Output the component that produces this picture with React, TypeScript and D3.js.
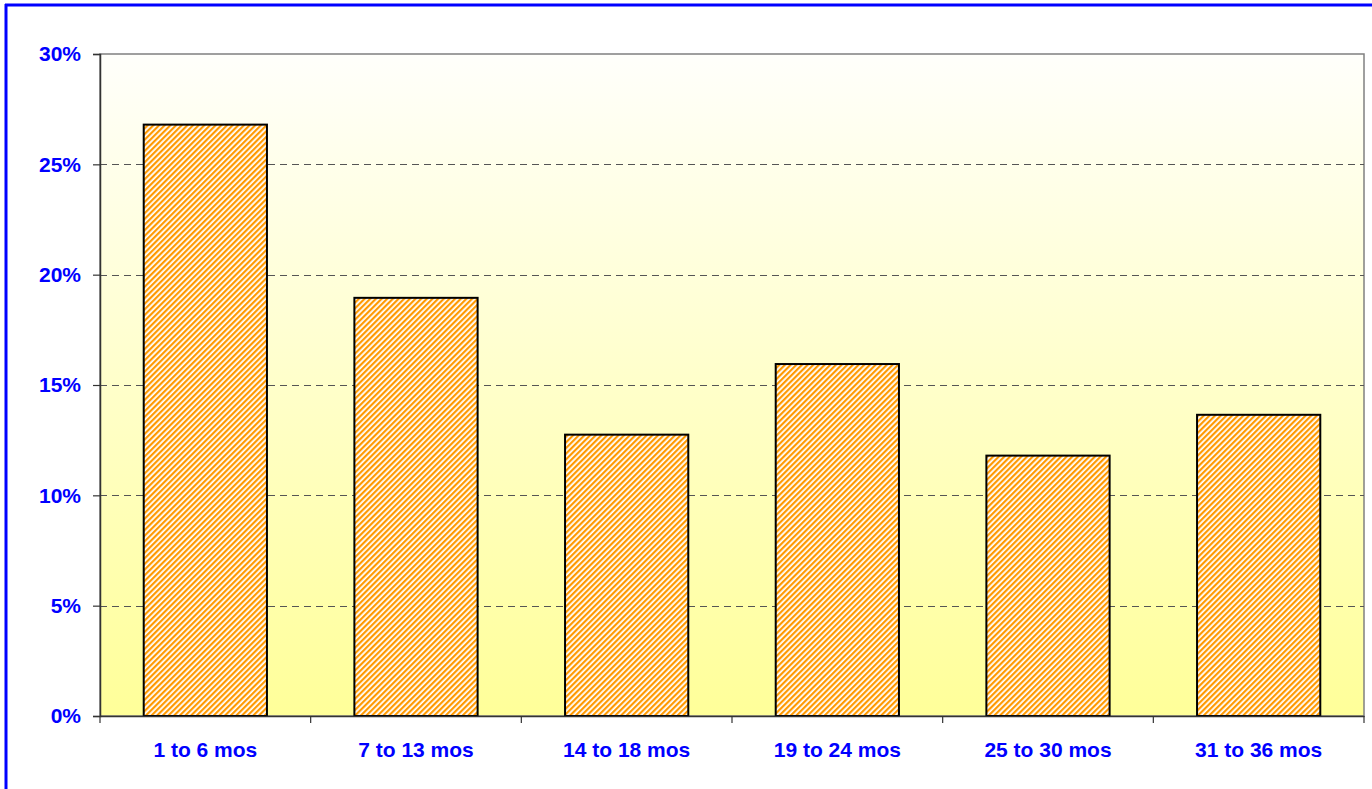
import React, { useEffect, useRef } from 'react';
import * as d3 from 'd3';

const categories = ['1 to 6 mos', '7 to 13 mos', '14 to 18 mos', '19 to 24 mos', '25 to 30 mos', '31 to 36 mos'];
const shares = [26.8, 18.95, 12.75, 15.95, 11.8, 13.65];
const yTicks = [0, 5, 10, 15, 20, 25, 30];

const W = 1372;
const H = 789;

const App = () => {
  const svgRef = useRef<SVGSVGElement>(null);

  useEffect(() => {
    document.body.style.margin = '0';
    const svg = d3.select(svgRef.current);
    svg.selectAll('*').remove();

    const plot = { left: 100, top: 54, right: 1364, bottom: 716 };
    const font = '"Liberation Sans", Arial, sans-serif';

    const x = d3.scaleBand<string>()
      .domain(categories)
      .range([plot.left, plot.right])
      .paddingInner(0.415)
      .paddingOuter(0.2075);

    const y = d3.scaleLinear().domain([0, 30]).range([plot.bottom, plot.top]);

    const defs = svg.append('defs');
    const grad = defs.append('linearGradient')
      .attr('id', 'bg')
      .attr('x1', 0).attr('y1', 0).attr('x2', 0).attr('y2', 1);
    grad.append('stop').attr('offset', '0%').attr('stop-color', '#fffffb');
    grad.append('stop').attr('offset', '100%').attr('stop-color', '#ffff99');

    const pat = defs.append('pattern')
      .attr('id', 'hatch')
      .attr('patternUnits', 'userSpaceOnUse')
      .attr('width', 4).attr('height', 4)
      .attr('patternTransform', 'rotate(45)');
    pat.append('rect').attr('width', 4).attr('height', 4).attr('fill', '#ffffff');
    pat.append('rect').attr('width', 2.2).attr('height', 4).attr('fill', '#ff9900');

    // outer frame
    svg.append('rect')
      .attr('x', 0).attr('y', 0).attr('width', W).attr('height', H)
      .attr('fill', '#ffffff');
    svg.append('line')
      .attr('x1', 5).attr('x2', W).attr('y1', 5).attr('y2', 5)
      .attr('stroke', '#0000ff').attr('stroke-width', 3);
    svg.append('line')
      .attr('x1', 6).attr('x2', 6).attr('y1', 4).attr('y2', H)
      .attr('stroke', '#0000ff').attr('stroke-width', 3);

    // plot area
    svg.append('rect')
      .attr('x', plot.left).attr('y', plot.top)
      .attr('width', plot.right - plot.left).attr('height', plot.bottom - plot.top)
      .attr('fill', 'url(#bg)')
      .attr('stroke', '#808080').attr('stroke-width', 1.5);

    // gridlines
    svg.append('g')
      .selectAll('line')
      .data(yTicks.filter(t => t > 0 && t < 30))
      .join('line')
      .attr('x1', plot.left).attr('x2', plot.right)
      .attr('y1', d => Math.round(y(d)) + 0.5).attr('y2', d => Math.round(y(d)) + 0.5)
      .attr('stroke', '#555555')
      .attr('stroke-dasharray', '7,5');

    // bars
    svg.append('g')
      .selectAll('rect')
      .data(categories)
      .join('rect')
      .attr('x', d => x(d)!)
      .attr('y', (d, i) => y(shares[i]))
      .attr('width', x.bandwidth())
      .attr('height', (d, i) => y(0) - y(shares[i]))
      .attr('fill', 'url(#hatch)')
      .attr('stroke', '#000000')
      .attr('stroke-width', 2);

    // y axis
    const yAxis = svg.append('g')
      .attr('transform', `translate(${plot.left},0)`)
      .call(d3.axisLeft(y).tickValues(yTicks).tickSize(7).tickPadding(12).tickFormat(d => `${d}%`));
    yAxis.select('.domain').attr('stroke', '#333333').attr('stroke-width', 1.5);
    yAxis.selectAll('.tick line').attr('stroke', '#333333').attr('stroke-width', 1.2);
    yAxis.selectAll('.tick text')
      .attr('fill', '#0000ff')
      .style('font-family', font)
      .style('font-size', '21px')
      .style('font-weight', 'bold');

    // x axis
    const xAxis = svg.append('g')
      .attr('transform', `translate(0,${plot.bottom})`)
      .call(d3.axisBottom(x).tickSize(0).tickPadding(26));
    xAxis.select('.domain').attr('stroke', '#333333').attr('stroke-width', 1.5);
    xAxis.selectAll('.tick text')
      .attr('fill', '#0000ff')
      .style('font-family', font)
      .style('font-size', '21px')
      .style('font-weight', 'bold');

    // category boundary ticks
    const bounds = d3.range(categories.length + 1).map(i => plot.left + i * x.step());
    svg.append('g')
      .selectAll('line')
      .data(bounds)
      .join('line')
      .attr('x1', d => d).attr('x2', d => d)
      .attr('y1', plot.bottom).attr('y2', plot.bottom + 7)
      .attr('stroke', '#333333').attr('stroke-width', 1.2);
  }, []);

  return (
    <svg ref={svgRef} width={W} height={H} style={{ display: 'block' }}></svg>
  );
};

export default App;
